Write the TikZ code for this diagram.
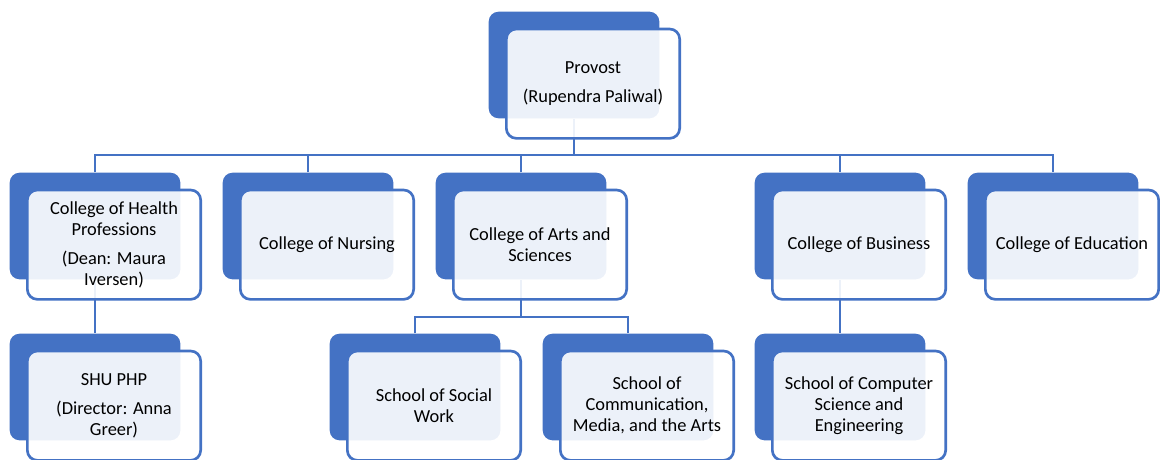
\documentclass[tikz,border=0pt]{standalone}
\usepackage{fontspec}
\setmainfont{Carlito}
\usepackage{tikz}
\usetikzlibrary{positioning}

\definecolor{accent}{HTML}{4472C4}

\begin{document}
\begin{tikzpicture}[x=0.75pt,y=-0.75pt,
  back/.style={rectangle,rounded corners=7.5pt,fill=accent,inner sep=0pt,
    minimum width=128pt,minimum height=80pt},
  front/.style={rectangle,rounded corners=7.5pt,draw=accent,line width=2pt,
    fill=white,fill opacity=0.9,text opacity=1,inner sep=2pt,align=center,
    minimum width=130pt,minimum height=82pt,xshift=14.25pt,yshift=-14pt,
    font=\fontsize{13.8pt}{15.75pt}\selectfont},
  link/.style={draw=accent,line width=1.8pt}]
\useasboundingbox (0,0) rectangle (1160,460);

% Les cadres du fond
\node [back] (prov-b) at (574,65) {};
\node [back] (hlth-b) at (95,226) {};
\node [back] (nurs-b) at (308,226) {};
\node [back] (arts-b) at (521,226) {};
\node [back] (busi-b) at (840,226) {};
\node [back] (educ-b) at (1053,226) {};
\node [back] (shu-b) at (95,387) {};
\node [back] (sowk-b) at (415,387) {};
\node [back] (comm-b) at (628,387) {};
\node [back] (csen-b) at (840,387) {};

% Les liens
\coordinate (bus) at (574,155);
\coordinate (arts-bus) at (521,317);
\draw[link] (prov-b.south) -- (bus);
\draw[link] (hlth-b.north) |- (bus) -| (educ-b.north);
\draw[link] (nurs-b.north) -- (nurs-b.north |- bus);
\draw[link] (arts-b.north) -- (arts-b.north |- bus);
\draw[link] (busi-b.north) -- (busi-b.north |- bus);
\draw[link] (hlth-b.south) -- (shu-b.north);
\draw[link] (arts-b.south) -- (arts-bus);
\draw[link] (sowk-b.north) |- (arts-bus) -| (comm-b.north);
\draw[link] (busi-b.south) -- (csen-b.north);

% Les cadres du devant
\node [front] (prov) at (prov-b) {Provost\\[6pt](Rupendra Paliwal)};
\node [front] (hlth) at (hlth-b) {College of Health\\Professions\\[6pt](Dean: Maura\\Iversen)};
\node [front] (nurs) at (nurs-b) {College of Nursing};
\node [front] (arts) at (arts-b) {College of Arts and\\Sciences};
\node [front] (busi) at (busi-b) {College of Business};
\node [front] (educ) at (educ-b) {College of Education};
\node [front] (shu) at (shu-b) {SHU PHP\\[6pt](Director: Anna\\Greer)};
\node [front] (sowk) at (sowk-b) {School of Social\\Work};
\node [front] (comm) at (comm-b) {School of\\Communication,\\Media, and the Arts};
\node [front] (csen) at (csen-b) {School of Computer\\Science and\\Engineering};
\end{tikzpicture}
\end{document}
